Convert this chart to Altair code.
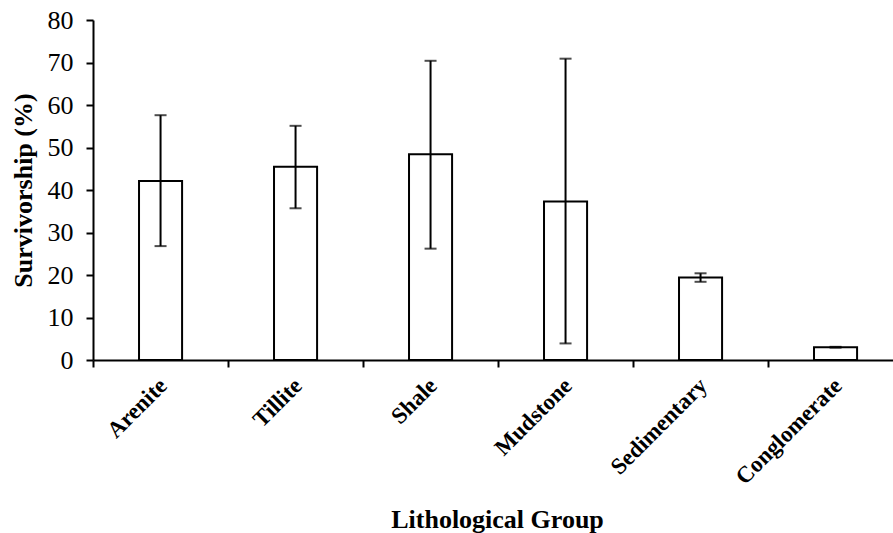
import altair as alt
import pandas as pd

# Survivorship by lithological group (mean with upper/lower error limits)
groups = ["Arenite", "Tillite", "Shale", "Mudstone", "Sedimentary", "Conglomerate"]
survivorship = [42.1, 45.5, 48.4, 37.3, 19.4, 3.0]
err_low = [26.8, 35.7, 26.2, 3.9, 18.4, 2.9]
err_high = [57.6, 55.1, 70.4, 70.9, 20.4, 3.1]
y_ticks = [0, 10, 20, 30, 40, 50, 60, 70, 80]

df = pd.DataFrame({
    "group": groups,
    "value": survivorship,
    "lo": err_low,
    "hi": err_high,
})

FONT = "Liberation Serif"

x_scale = alt.Scale(domain=groups, paddingInner=0.681, paddingOuter=0.3035, align=0.5616)
y_scale = alt.Scale(domain=[0, 80], nice=False)

x_axis = alt.Axis(
    title="Lithological Group",
    labelAngle=-45,
    labelAlign="right",
    labelBaseline="top",
    labelFont=FONT,
    labelFontSize=23,
    labelFontWeight="bold",
    labelColor="black",
    labelPadding=7,
    labelOffset=62,
    tickOffset=-67.5,
    tickSize=7,
    tickWidth=2,
    tickColor="black",
    domainColor="black",
    domainWidth=2,
    titleFont=FONT,
    titleFontSize=26,
    titleFontWeight="bold",
    titleColor="black",
    titleBaseline="alphabetic",
    titleAlign="center",
    titleX=404,
    titleY=167,
)

y_axis = alt.Axis(
    title="Survivorship (%)",
    values=y_ticks,
    grid=False,
    labelFont=FONT,
    labelFontSize=26,
    labelColor="black",
    labelPadding=13,
    tickSize=7,
    tickWidth=2,
    tickColor="black",
    domainColor="black",
    domainWidth=2,
    titleFont=FONT,
    titleFontSize=26,
    titleFontWeight="bold",
    titleColor="black",
    titlePadding=11,
)

base = alt.Chart(df)

bars = base.mark_bar(fill="white", stroke="black", strokeWidth=2).encode(
    x=alt.X("group:N", scale=x_scale, axis=x_axis, sort=groups),
    y=alt.Y("value:Q", scale=y_scale, axis=y_axis),
)

whisker = base.mark_rule(color="black", strokeWidth=2).encode(
    x=alt.X("group:N", scale=x_scale, sort=groups),
    y="lo:Q",
    y2="hi:Q",
)

cap_hi = base.mark_tick(color="black", size=12, thickness=2, orient="horizontal").encode(
    x=alt.X("group:N", scale=x_scale, sort=groups),
    y="hi:Q",
)

cap_lo = base.mark_tick(color="black", size=12, thickness=2, orient="horizontal").encode(
    x=alt.X("group:N", scale=x_scale, sort=groups),
    y="lo:Q",
)

chart = (
    alt.layer(bars, whisker, cap_hi, cap_lo)
    .properties(
        width=800,
        height=340,
        autosize=alt.AutoSizeParams(type="none"),
        padding={"left": 93, "top": 20, "right": 0, "bottom": 173},
        background="white",
    )
    .configure_view(strokeWidth=0)
)

chart.save("out.html", embed_options={"renderer": "svg", "actions": False})
